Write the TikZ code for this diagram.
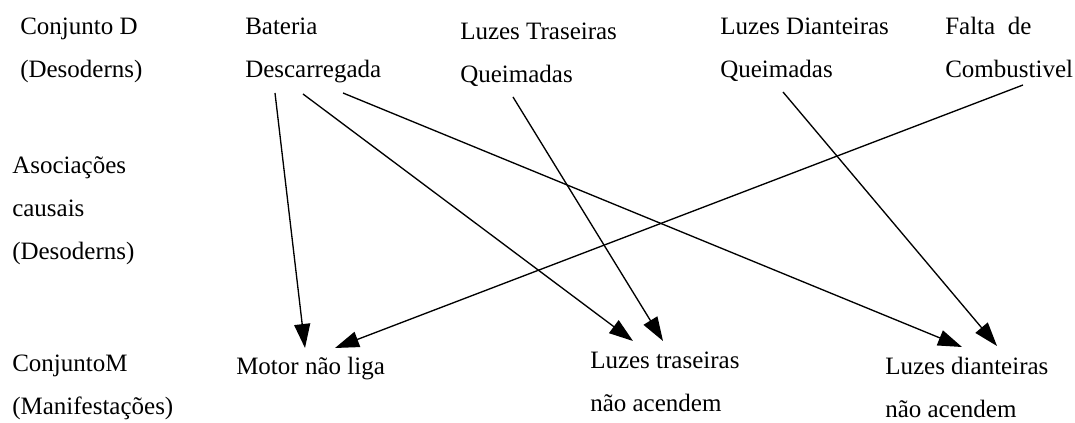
\documentclass[tikz,border=0pt]{standalone}
\usepackage{fontspec}
\setmainfont{Liberation Serif}
\usetikzlibrary{arrows.meta}
\begin{document}
\begin{tikzpicture}[x=0.75pt,y=-0.75pt,
  lbl/.style={anchor=base west,inner sep=0pt,align=left,font=\fontsize{18.75}{32.6}\selectfont},
  conn/.style={line width=1pt,-{Triangle[length=18pt,width=12pt]}}]
\useasboundingbox (0,0) rectangle (1075,423);
% left column (anchored at the baseline of the last line)
\node[lbl] (cd) at (20,78) {Conjunto D\\(Desoderns)};
\node[lbl] (ac) at (12,260) {Asociações\\causais\\(Desoderns)};
\node[lbl] (cm) at (12,415) {ConjuntoM\\(Manifestações)};
% disorders
\node[lbl] (bat) at (245,78) {Bateria\\Descarregada};
\node[lbl] (ltq) at (460,83) {Luzes Traseiras\\Queimadas};
\node[lbl] (ldq) at (720,78) {Luzes Dianteiras\\Queimadas};
\node[lbl] (fc) at (945,78) {Falta \ de\\Combustivel};
% manifestations
\node[lbl] (mnl) at (236,375) {Motor não liga};
\node[lbl] (lta) at (590,412) {Luzes traseiras\\não acendem};
\node[lbl] (lda) at (885,418) {Luzes dianteiras\\não acendem};
% connector ends
\coordinate (b1) at (275,93);
\coordinate (b2) at (303,94);
\coordinate (b3) at (343,93);
\coordinate (t1) at (513,97);
\coordinate (d1) at (783,92);
\coordinate (f1) at (1023,85);
\coordinate (m1) at (305,348);
\coordinate (m2) at (335,348);
\coordinate (lt1) at (633,341);
\coordinate (lt2) at (663,341);
\coordinate (ld1) at (962,347);
\coordinate (ld2) at (997,346);
\draw[conn] (b1) -- (m1);
\draw[conn] (b2) -- (lt1);
\draw[conn] (b3) -- (ld1);
\draw[conn] (t1) -- (lt2);
\draw[conn] (d1) -- (ld2);
\draw[conn] (f1) -- (m2);
\end{tikzpicture}
\end{document}
